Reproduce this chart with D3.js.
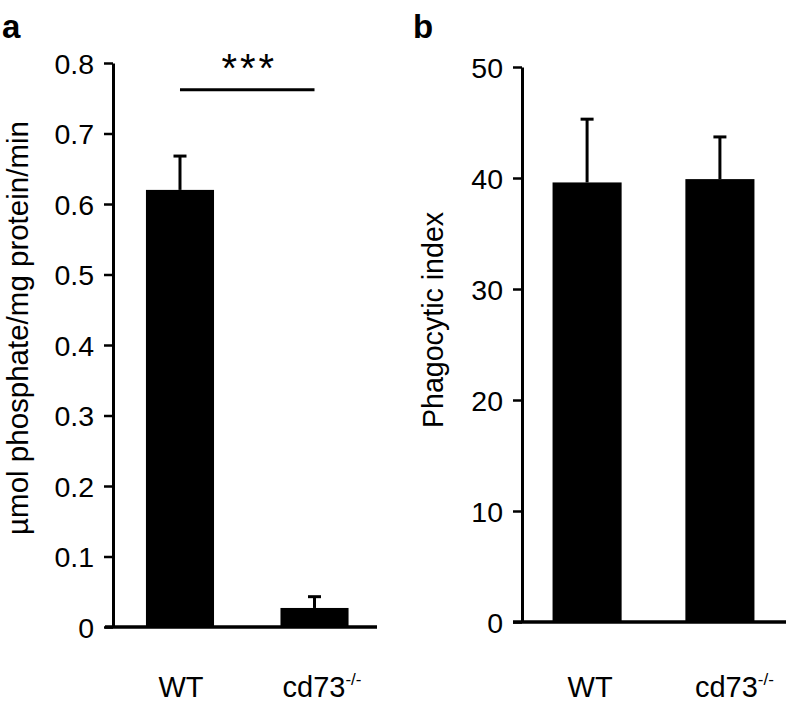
<!DOCTYPE html>
<html>
<head>
<meta charset="utf-8">
<script src="https://cdn.jsdelivr.net/npm/d3@7"></script>
<style>
  html, body { margin: 0; padding: 0; background: #fff; }
  svg { display: block; }
  text { font-family: "Liberation Sans", Arial, Helvetica, sans-serif; fill: #000; }
</style>
</head>
<body>
<svg id="chart" width="786" height="705"></svg>
<script>
// ---- data ----
const categories = ["WT", "cd73"];
const categorySup = ["", "-/-"];

const aValues = [0.62, 0.027];
const aErrors = [0.048, 0.016];
const aTicks = [0, 0.1, 0.2, 0.3, 0.4, 0.5, 0.6, 0.7, 0.8];
const aTitle = "µmol phosphate/mg protein/min";
const aSignif = "***";

const bValues = [39.6, 39.9];
const bErrors = [5.7, 3.8];
const bTicks = [0, 10, 20, 30, 40, 50];
const bTitle = "Phagocytic index";

const svg = d3.select("#chart");

function drawPanel(opt) {
  const g = svg.append("g");
  const y = d3.scaleLinear().domain(opt.domain).range([opt.y0, opt.y1]);
  const x = d3.scaleBand().domain(categories)
    .range([opt.xr0, opt.xr1]).paddingInner(opt.pi).paddingOuter(opt.po);
  const rows = categories.map((c, i) => ({ c, sup: categorySup[i], v: opt.values[i], e: opt.errors[i], shift: opt.labelShift[i] }));
  const cx = d => x(d.c) + x.bandwidth() / 2;

  // bars
  g.selectAll("rect.bar").data(rows).enter().append("rect")
    .attr("x", d => x(d.c))
    .attr("width", x.bandwidth())
    .attr("y", d => y(d.v))
    .attr("height", d => y(0) - y(d.v))
    .attr("fill", "#000");

  // error bars (upper only)
  const eg = g.selectAll("g.err").data(rows).enter().append("g");
  eg.append("line")
    .attr("x1", cx).attr("x2", cx)
    .attr("y1", d => y(d.v))
    .attr("y2", d => y(d.v + d.e))
    .attr("stroke", "#000").attr("stroke-width", 3);
  eg.append("line")
    .attr("x1", d => cx(d) - 6.5)
    .attr("x2", d => cx(d) + 6.5)
    .attr("y1", d => y(d.v + d.e))
    .attr("y2", d => y(d.v + d.e))
    .attr("stroke", "#000").attr("stroke-width", 3);

  // y axis
  const ax = g.append("g")
    .attr("transform", `translate(${opt.axisX},0)`)
    .call(d3.axisLeft(y).tickValues(opt.ticks).tickSize(9).tickSizeOuter(0).tickPadding(10)
      .tickFormat(opt.fmt));
  ax.select(".domain").attr("stroke-width", 3);
  ax.selectAll(".tick line").attr("stroke-width", 2.5);
  ax.selectAll(".tick text")
    .style("font-family", '"Liberation Sans", Arial, sans-serif')
    .style("font-size", "28.5px").attr("fill", "#000").attr("dy", "0.36em");

  // baseline
  g.append("line")
    .attr("x1", opt.baseX0).attr("x2", opt.baseX1)
    .attr("y1", y(0)).attr("y2", y(0))
    .attr("stroke", "#000").attr("stroke-width", 3.5);

  // category labels
  const lab = g.selectAll("text.cat").data(rows).enter().append("text")
    .attr("x", d => cx(d) + d.shift)
    .attr("y", 697)
    .attr("text-anchor", "middle")
    .style("font-size", "29px");
  lab.append("tspan").text(d => d.c);
  lab.filter(d => d.sup).append("tspan")
    .attr("dy", -12).style("font-size", "17px").text(d => d.sup);

  // y title
  g.append("text")
    .attr("transform", `translate(${opt.titleX},${opt.titleY}) rotate(-90)`)
    .attr("text-anchor", "middle")
    .style("font-size", opt.titleSize + "px")
    .text(opt.title);

  // panel letter
  g.append("text").attr("x", opt.letterX).attr("y", 38)
    .style("font-size", "33px").style("font-weight", "bold").text(opt.letter);

  return { x, y, g };
}

const pa = drawPanel({
  domain: [0, 0.8], y0: 627, y1: 63,
  xr0: 113, xr1: 381.5, pi: 0.494, po: 0.245,
  values: aValues, errors: aErrors, ticks: aTicks,
  fmt: d => d === 0 ? "0" : d3.format(".1f")(d),
  axisX: 113, baseX0: 105, baseX1: 377, labelShift: [1, 7.5],
  title: aTitle, titleX: 28, titleY: 328, titleSize: 29.5, letter: "a", letterX: 2
});

// significance bar
pa.g.append("line")
  .attr("x1", pa.x("WT") + pa.x.bandwidth() / 2)
  .attr("x2", pa.x("cd73") + pa.x.bandwidth() / 2)
  .attr("y1", pa.y(0.762)).attr("y2", pa.y(0.762))
  .attr("stroke", "#000").attr("stroke-width", 3);
pa.g.append("text")
  .attr("x", (pa.x("WT") + pa.x("cd73") + pa.x.bandwidth()) / 2 + 2)
  .attr("y", 82).attr("text-anchor", "middle")
  .style("font-size", "40px").style("letter-spacing", "3px").text(aSignif);

drawPanel({
  domain: [0, 50], y0: 622, y1: 67,
  xr0: 522, xr1: 785, pi: 0.48, po: 0.23,
  values: bValues, errors: bErrors, ticks: bTicks,
  fmt: d3.format("d"),
  axisX: 522, baseX0: 513, baseX1: 786, labelShift: [3, 14.5],
  title: bTitle, titleX: 443, titleY: 320, titleSize: 28.6, letter: "b", letterX: 413
});
</script>
</body>
</html>
